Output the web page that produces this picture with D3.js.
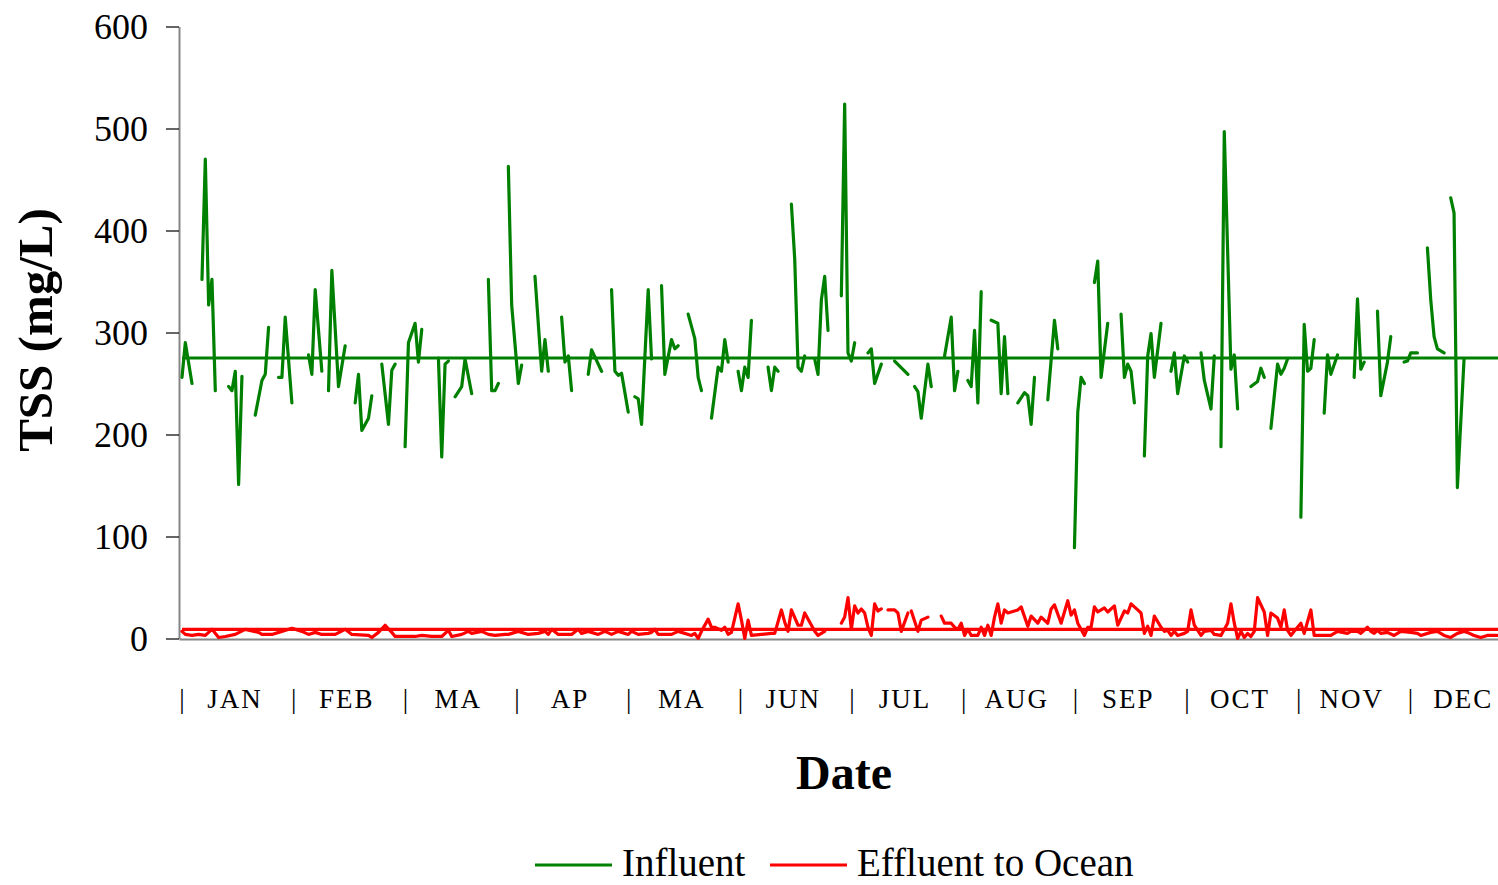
<!DOCTYPE html>
<html>
<head>
<meta charset="utf-8">
<script src="https://cdn.jsdelivr.net/npm/d3@7"></script>
<style>
  body { margin: 0; background: #fff; }
  svg { display: block; }
  text { font-family: "Liberation Serif", "Times New Roman", serif; fill: #000; }
</style>
</head>
<body>
<svg id="chart" width="1498" height="885"></svg>
<script>
// Daily TSS samples (mg/L). A null in both arrays ends a line segment (no sample).
const influentDay = [0,1,3,null,6,7,8,9,10,null,14,15,16,17,18,null,22,24,25,26,null,29,30,31,33,null,38,39,40,42,null,44,45,47,49,null,52,53,54,56,57,null,60,62,63,64,null,67,68,70,71,72,null,77,78,79,80,null,82,84,85,87,null,92,93,94,95,null,98,99,101,102,null,106,108,109,110,null,114,115,116,117,null,122,123,126,null,129,130,131,132,134,null,136,137,138,140,141,null,144,145,147,148,149,null,152,154,155,156,null,159,161,162,163,164,null,167,168,169,170,171,null,176,177,178,179,null,183,184,185,186,187,null,190,191,192,193,194,null,198,199,200,201,202,null,206,207,208,210,null,214,218,null,220,221,222,224,225,null,229,231,232,233,null,236,237,238,239,240,null,243,245,246,247,248,null,251,253,254,255,256,null,260,262,263,null,268,269,270,271,null,274,275,276,278,null,282,283,284,285,286,null,289,290,291,292,294,null,297,298,299,301,302,null,306,307,309,310,null,312,313,315,316,317,null,321,323,324,325,null,327,329,330,331,332,null,336,337,338,339,340,null,343,344,345,347,null,352,353,354,355,null,359,360,362,363,null,367,368,369,371,null,374,375,376,377,379,null,381,382,383,385];
const influentTSS = [256,290,250,null,352,470,327,352,243,null,247,243,262,151,257,null,219,253,259,305,null,256,256,315,231,null,278,259,342,262,null,243,361,247,287,null,231,259,204,216,238,null,269,210,263,269,null,188,290,309,271,303,null,275,178,269,272,null,237,247,274,240,null,352,243,243,250,null,463,327,250,268,null,355,262,293,262,null,315,271,277,243,null,259,283,262,null,342,262,258,260,222,null,237,235,210,342,274,null,346,259,293,284,287,null,318,294,256,243,null,216,266,262,293,271,null,262,243,266,256,312,null,266,243,266,262,null,426,372,266,262,277,null,274,259,332,355,302,null,336,524,280,272,290,null,280,284,250,269,null,272,259,null,247,242,216,269,247,null,277,315,243,262,null,253,247,302,231,340,null,312,309,240,296,240,null,231,241,238,210,256,null,234,312,284,null,89,222,256,250,null,349,370,256,309,null,318,256,269,262,231,null,179,277,299,256,309,null,262,280,240,277,271,null,280,253,225,277,null,188,497,264,278,225,null,247,252,265,256,null,206,269,259,265,274,null,119,308,262,265,293,null,221,278,259,278,null,256,333,264,271,null,321,238,271,296,null,271,272,280,280,null,383,332,296,284,280,null,432,417,148,274];

const effluentDay = [0,1,3,5,7,9,11,13,16,19,23,24,27,30,33,36,38,40,42,46,49,51,56,57,59,61,63,64,66,70,72,75,78,80,81,84,86,87,90,92,94,97,98,101,104,107,109,110,111,113,117,119,120,122,125,127,129,131,134,135,137,140,141,142,143,147,149,150,153,154,155,156,158,159,160,162,163,164,165,167,168,169,170,171,177,178,180,181,182,183,185,186,187,190,191,193,null,198,199,200,201,202,203,204,205,206,207,208,209,210,null,212,214,215,216,218,null,219,221,222,224,null,228,229,231,232,233,234,235,236,237,239,240,241,242,243,244,245,246,247,248,249,251,252,254,255,257,258,260,261,262,264,266,267,268,269,271,272,273,274,275,277,278,280,281,282,283,284,285,287,288,289,290,291,292,294,295,296,297,298,299,301,302,303,304,306,307,309,310,312,314,315,316,317,318,319,320,321,322,323,325,326,327,329,330,331,332,333,334,336,337,339,340,342,345,347,350,351,353,354,356,357,358,359,360,362,364,366,369,371,372,375,377,379,381,383,385,386,388,390,392,395];
const effluentTSS = [7,4,3,4,3,9,1,2,4,9,6,4,4,7,10,7,4,6,4,4,9,4,3,1,6,13,6,2,2,2,3,2,2,8,2,4,7,5,7,4,3,4,4,7,4,5,7,4,9,4,4,9,5,7,4,7,4,7,4,7,4,5,6,9,4,4,7,6,3,5,0,7,19,11,11,8,11,4,6,34,18,0,18,3,5,5,28,16,7,28,13,13,25,7,3,7,null,15,21,40,9,32,25,29,25,11,3,34,27,29,null,28,28,25,7,25,null,27,7,18,21,null,22,15,15,11,9,15,3,9,3,3,11,3,13,3,21,34,15,28,25,26,28,31,12,22,15,21,15,29,33,15,37,23,28,15,3,11,11,31,26,30,26,32,13,20,27,25,34,28,25,5,12,3,22,11,7,8,3,7,3,5,7,28,13,3,7,8,4,3,15,34,15,0,7,1,5,2,7,40,26,3,25,20,11,28,8,3,7,15,5,28,3,3,3,7,5,7,7,5,11,7,5,8,5,6,3,7,6,5,3,6,7,3,1,5,7,6,3,1,3,3];

const influentMean = 275;
const effluentMean = 9;

const yTicks = [0, 100, 200, 300, 400, 500, 600];
const monthLabels = ["JAN", "FEB", "MA", "AP", "MA", "JUN", "JUL", "AUG", "SEP", "OCT", "NOV", "DEC"];
const seriesNames = ["Influent", "Effluent to Ocean"];
const seriesColors = ["#008000", "#ff0000"];

const svg = d3.select("#chart");
svg.append("rect").attr("width", 1498).attr("height", 885).attr("fill", "#fff");

const x = d3.scaleLinear().domain([0, 400]).range([182, 1514]);
const y = d3.scaleLinear().domain([0, 600]).range([638.5, 26.5]);

// y axis
const yAxis = svg.append("g")
  .attr("transform", "translate(179,0)")
  .call(d3.axisLeft(y).tickValues(yTicks).tickSize(13).tickSizeOuter(0).tickPadding(18));
yAxis.select(".domain").attr("stroke", "#868686").attr("stroke-width", 2);
yAxis.selectAll(".tick line").attr("stroke", "#000").attr("stroke-width", 1.2);
yAxis.selectAll(".tick text")
  .style("font-family", '"Liberation Serif", serif')
  .style("font-size", "36px")
  .attr("dy", "0.34em");

// x axis line
const xAxis = svg.append("g")
  .attr("transform", "translate(0,639)")
  .call(d3.axisBottom(d3.scaleLinear().domain([0, 1]).range([179, 1498])).tickValues([]).tickSizeOuter(0));
xAxis.select(".domain").attr("stroke", "#868686").attr("stroke-width", 2);

// month label row
const band = d3.scaleBand().domain(d3.range(monthLabels.length)).range([182, 1522]);
const mg = svg.append("g").attr("class", "months");
monthLabels.forEach((m, i) => {
  mg.append("text")
    .attr("x", band(i)).attr("y", 708)
    .attr("text-anchor", "middle")
    .style("font-size", "27px")
    .text("|");
  mg.append("text")
    .attr("x", band(i) + 53).attr("y", 708)
    .attr("text-anchor", "middle")
    .style("font-size", "27px")
    .style("letter-spacing", "2px")
    .text(m);
});

// axis titles
svg.append("text")
  .attr("transform", "translate(52,330) rotate(-90)")
  .attr("text-anchor", "middle")
  .style("font-size", "49px").style("font-weight", "bold")
  .text("TSS (mg/L)");
svg.append("text")
  .attr("x", 844).attr("y", 789)
  .attr("text-anchor", "middle")
  .style("font-size", "48px").style("font-weight", "bold")
  .text("Date");

// series
function toPoints(days, vals) {
  return days.map((d, i) => ({ day: d, v: vals[i] }));
}
const line = d3.line()
  .defined(d => d.v !== null && d.day !== null)
  .x(d => x(d.day))
  .y(d => y(d.v));

const plot = svg.append("g");
const influent = toPoints(influentDay, influentTSS);
const effluent = toPoints(effluentDay, effluentTSS);

plot.append("path").datum(influent)
  .attr("d", line).attr("fill", "none")
  .attr("stroke", seriesColors[0]).attr("stroke-width", 3.2)
  .attr("stroke-linejoin", "round").attr("stroke-linecap", "round");
plot.append("path").datum(effluent)
  .attr("d", line).attr("fill", "none")
  .attr("stroke", seriesColors[1]).attr("stroke-width", 3.2)
  .attr("stroke-linejoin", "round").attr("stroke-linecap", "round");

// annual mean lines
const meanDomain = x.domain();
[[influentMean, seriesColors[0]], [effluentMean, seriesColors[1]]].forEach(([m, c]) => {
  plot.append("path")
    .datum(meanDomain.map(d => ({ day: d, v: m })))
    .attr("d", line).attr("fill", "none")
    .attr("stroke", c).attr("stroke-width", 3.2);
});

// legend
const legendX = [535, 770];
seriesNames.forEach((name, i) => {
  const g = svg.append("g").attr("transform", `translate(${legendX[i]},865)`);
  g.append("line").attr("x1", 0).attr("x2", 77).attr("y1", 0).attr("y2", 0)
    .attr("stroke", seriesColors[i]).attr("stroke-width", 3.2);
  g.append("text").attr("x", 87).attr("y", 11)
    .style("font-size", "39px").text(name);
});
</script>
</body>
</html>
